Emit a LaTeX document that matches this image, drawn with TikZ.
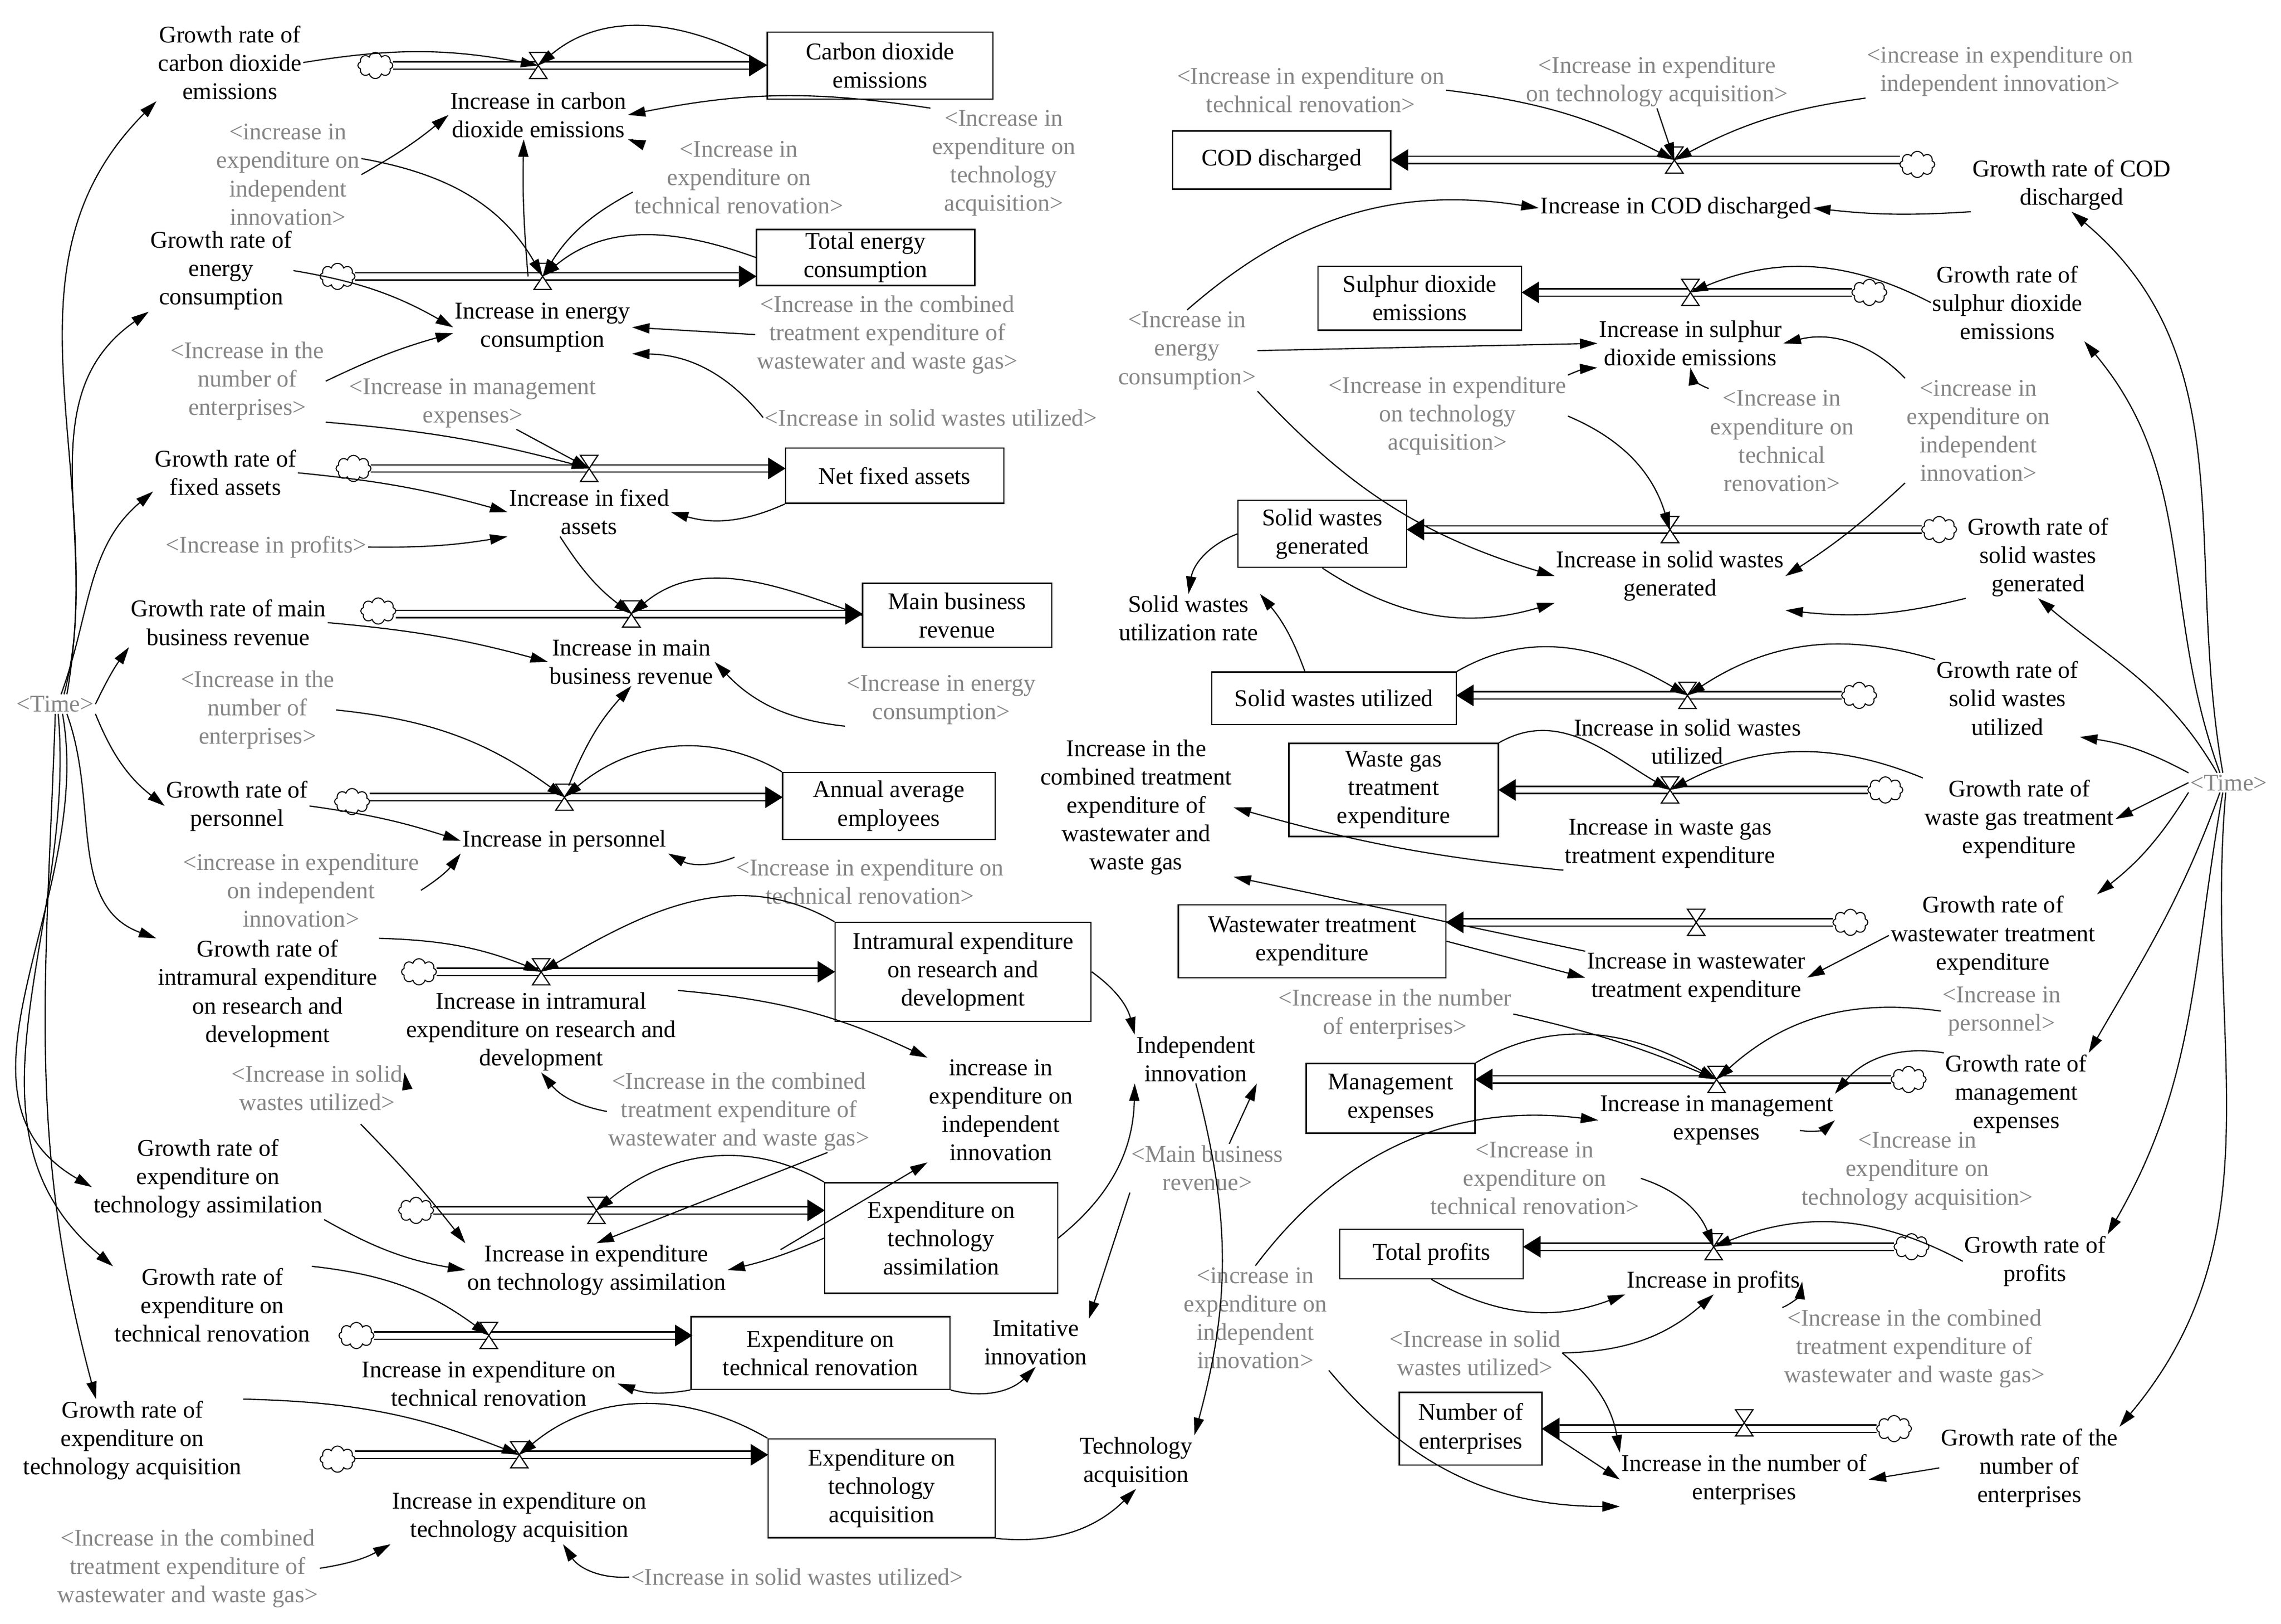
\documentclass[tikz,border=0pt]{standalone}
\usepackage{fontspec}
\setmainfont{Liberation Serif}
\usetikzlibrary{shapes.symbols,arrows.meta}
\newcommand\fs{\fontsize{16.5}{19.5}\selectfont}
\tikzset{
 stock/.style={draw,line width=0.9pt,align=center,inner sep=2pt,font=\fs},
 var/.style={align=center,inner sep=1pt,font=\fs},
 sh/.style={var,text=black!48},
 cl/.style={cloud,cloud puffs=8,aspect=1.4,draw,line width=0.7pt,minimum width=24pt,minimum height=18pt,inner sep=0pt,fill=white},
 conn/.style={-{Triangle[length=12pt,width=7pt]},line width=0.8pt},
}
\newcommand\pipe[3]{\pgfmathsetmacro\pb{#2-12*sign(#2-#1)}%
 \draw[line width=0.9pt] (#1,#3-2.5)--(\pb,#3-2.5) (#1,#3+2.5)--(\pb,#3+2.5);
 \fill (#2,#3)--(\pb,#3-7.5)--(\pb,#3+7.5)--cycle;}
\newcommand\valve[3]{\coordinate (#1) at (#2,#3);
 \draw[fill=white,line width=0.8pt] (#2-6,#3-9)--(#2+6,#3-9)--(#2-6,#3+9)--(#2+6,#3+9)--cycle;}
\begin{document}
\begin{tikzpicture}[x=1pt,y=-1pt]
\useasboundingbox (0,0) rectangle (1568,1116);
% ---------- LEFT ----------
\node[stock,minimum width=155pt,minimum height=46pt] (sC) at (605,45) {Carbon dioxide\\emissions};
\node[var] (rC) at (370,79) {Increase in carbon\\dioxide emissions};
\node[var] (gC) at (158,43) {Growth rate of\\carbon dioxide\\emissions};
\node[sh] (s1a) at (198,120) {<increase in\\expenditure on\\independent\\innovation>};
\node[sh] (s1b) at (508,122) {<Increase in\\expenditure on\\technical renovation>};
\node[sh] (s1c) at (690,112) {<Increase in\\expenditure on\\technology\\acquisition>};
\node[stock,minimum width=150pt,minimum height=38pt] (sE) at (595,177) {Total energy\\consumption};
\node[var] (rE) at (373,225) {Increase in energy\\consumption};
\node[var] (gE) at (152,186) {Growth rate of\\energy\\consumption};
\node[sh] (s2a) at (610,230) {<Increase in the combined\\treatment expenditure of\\wastewater and waste gas>};
\node[sh] (s2b) at (170,262) {<Increase in the\\number of\\enterprises>};
\node[sh] (s2c) at (325,277) {<Increase in management\\expenses>};
\node[sh] (s2d) at (640,287) {<Increase in solid wastes utilized>};
\node[stock,minimum width=150pt,minimum height=38pt] (sF) at (615,327) {Net fixed assets};
\node[var] (rF) at (405,352) {Increase in fixed\\assets};
\node[var] (gF) at (155,325) {Growth rate of\\fixed assets};
\node[sh] (s3a) at (183,376) {<Increase in profits>};
\node[stock,minimum width=130pt,minimum height=44pt] (sM) at (658,423) {Main business\\revenue};
\node[var] (rM) at (434,455) {Increase in main\\business revenue};
\node[var] (gM) at (157,428) {Growth rate of main\\business revenue};
\node[sh] (s4a) at (177,488) {<Increase in the\\number of\\enterprises>};
\node[sh] (s4b) at (647,481) {<Increase in energy\\consumption>};
\node[sh] (tL) at (38,484) {<Time>};
\node[stock,minimum width=146pt,minimum height=46pt] (sA) at (611,554) {Annual average\\employees};
\node[var] (rP) at (388,578) {Increase in personnel};
\node[var] (gP) at (163,554) {Growth rate of\\personnel};
\node[sh] (s5a) at (207,612) {<increase in expenditure\\on independent\\innovation>};
\node[sh] (s5b) at (598,606) {<Increase in expenditure on\\technical renovation>};
\node[stock,minimum width=176pt,minimum height=68pt] (sRD) at (662,668) {Intramural expenditure\\on research and\\development};
\node[var] (rRD) at (372,709) {Increase in intramural\\expenditure on research and\\development};
\node[var] (gRD) at (184,683) {Growth rate of\\intramural expenditure\\on research and\\development};
\node[sh] (s6a) at (218,748) {<Increase in solid\\wastes utilized>};
\node[sh] (s6b) at (508,764) {<Increase in the combined\\treatment expenditure of\\wastewater and waste gas>};
\node[var] (iII) at (688,763) {increase in\\expenditure on\\independent\\innovation};
\node[var] (II) at (822,728) {Independent\\innovation};
\node[sh] (sMB) at (830,803) {<Main business\\revenue>};
\node[stock,minimum width=160pt,minimum height=76pt] (sTA) at (647,851) {Expenditure on\\technology\\assimilation};
\node[var] (rTA) at (410,873) {Increase in expenditure\\on technology assimilation};
\node[var] (gTA) at (143,810) {Growth rate of\\expenditure on\\technology assimilation};
\node[stock,minimum width=178pt,minimum height=50pt] (sTR) at (564,930) {Expenditure on\\technical renovation};
\node[var] (rTR) at (336,951) {Increase in expenditure on\\technical renovation};
\node[var] (gTR) at (146,897) {Growth rate of\\expenditure on\\technical renovation};
\node[var] (Im) at (712,923) {Imitative\\innovation};
\node[var] (TA) at (781,1005) {Technology\\acquisition};
\node[stock,minimum width=156pt,minimum height=68pt] (sTQ) at (606,1023) {Expenditure on\\technology\\acquisition};
\node[var] (rTQ) at (357,1043) {Increase in expenditure on\\technology acquisition};
\node[var] (gTQ) at (91,990) {Growth rate of\\expenditure on\\technology acquisition};
\node[sh] (s9a) at (129,1078) {<Increase in the combined\\treatment expenditure of\\wastewater and waste gas>};
\node[sh] (s9b) at (548,1084) {<Increase in solid wastes utilized>};
% ---------- RIGHT ----------
\node[stock,minimum width=150pt,minimum height=40pt] (sCOD) at (881,110) {COD discharged};
\node[var] (rCOD) at (1152,143) {Increase in COD discharged};
\node[var] (gCOD) at (1424,127) {Growth rate of COD\\discharged};
\node[sh] (r1a) at (901,62) {<Increase in expenditure on\\technical renovation>};
\node[sh] (r1b) at (1139,56) {<Increase in expenditure\\on technology acquisition>};
\node[sh] (r1c) at (1375,49) {<increase in expenditure on\\independent innovation>};
\node[stock,minimum width=140pt,minimum height=44pt] (sSO) at (976,205) {Sulphur dioxide\\emissions};
\node[var] (rSO) at (1162,236) {Increase in sulphur\\dioxide emissions};
\node[var] (gSO) at (1380,208) {Growth rate of\\sulphur dioxide\\emissions};
\node[sh] (r2a) at (816,241) {<Increase in\\energy\\consumption>};
\node[sh] (r2b) at (995,286) {<Increase in expenditure\\on technology\\acquisition>};
\node[sh] (r2c) at (1225,303) {<Increase in\\expenditure on\\technical\\renovation>};
\node[sh] (r2d) at (1360,296) {<increase in\\expenditure on\\independent\\innovation>};
\node[stock,minimum width=116pt,minimum height=46pt] (sSW) at (909,367) {Solid wastes\\generated};
\node[var] (rSW) at (1148,396) {Increase in solid wastes\\generated};
\node[var] (gSW) at (1401,383) {Growth rate of\\solid wastes\\generated};
\node[var] (SUR) at (817,425) {Solid wastes\\utilization rate};
\node[stock,minimum width=168pt,minimum height=36pt] (sSU) at (917,480) {Solid wastes utilized};
\node[var] (rSU) at (1160,510) {Increase in solid wastes\\utilized};
\node[var] (gSU) at (1380,480) {Growth rate of\\solid wastes\\utilized};
\node[stock,minimum width=144pt,minimum height=64pt] (sWG) at (958,543) {Waste gas\\treatment\\expenditure};
\node[var] (rWG) at (1148,580) {Increase in waste gas\\treatment expenditure};
\node[var] (gWG) at (1388,563) {Growth rate of\\waste gas treatment\\expenditure};
\node[var] (CTE) at (781,555) {Increase in the\\combined treatment\\expenditure of\\wastewater and\\waste gas};
\node[sh] (tR) at (1532,538) {<Time>};
\node[stock,minimum width=184pt,minimum height=50pt] (sWW) at (902,647) {Wastewater treatment\\expenditure};
\node[var] (rWW) at (1166,672) {Increase in wastewater\\treatment expenditure};
\node[var] (gWW) at (1370,643) {Growth rate of\\wastewater treatment\\expenditure};
\node[stock,minimum width=116pt,minimum height=48pt] (sME) at (956,755) {Management\\expenses};
\node[var] (rME) at (1180,770) {Increase in management\\expenses};
\node[var] (gME) at (1386,752) {Growth rate of\\management\\expenses};
\node[sh] (r7a) at (959,697) {<Increase in the number\\of enterprises>};
\node[sh] (r7b) at (1376,695) {<Increase in\\personnel>};
\node[sh] (r7c) at (1318,805) {<Increase in\\expenditure on\\technology acquisition>};
\node[sh] (r7d) at (1055,810) {<Increase in\\expenditure on\\technical renovation>};
\node[stock,minimum width=126pt,minimum height=34pt] (sTP) at (984,862) {Total profits};
\node[var] (rIP) at (1178,881) {Increase in profits};
\node[var] (gPR) at (1399,867) {Growth rate of\\profits};
\node[sh] (r8a) at (863,906) {<increase in\\expenditure on\\independent\\innovation>};
\node[sh] (r8b) at (1316,927) {<Increase in the combined\\treatment expenditure of\\wastewater and waste gas>};
\node[sh] (r8c) at (1014,930) {<Increase in solid\\wastes utilized>};
\node[stock,minimum width=98pt,minimum height=50pt] (sNE) at (1011,982) {Number of\\enterprises};
\node[var] (rNE) at (1199,1017) {Increase in the number of\\enterprises};
\node[var] (gNE) at (1395,1009) {Growth rate of the\\number of\\enterprises};
% ---------- pipes ----------
\pipe{270}{527}{45}\pipe{244}{520}{190}\pipe{255}{540}{322}\pipe{272}{593}{422}
\pipe{254}{538}{548}\pipe{300}{574}{668}\pipe{298}{567}{832}\pipe{257}{476}{918}\pipe{244}{528}{1000}
\pipe{1306}{956}{110}\pipe{1273}{1046}{201}\pipe{1321}{967}{364}\pipe{1266}{1001}{478}
\pipe{1284}{1030}{543}\pipe{1260}{994}{634}\pipe{1300}{1014}{742}\pipe{1302}{1047}{857}\pipe{1290}{1060}{982}
\foreach \x/\y in {258/45,232/190,243/322,260/420,242/551,288/668,286/832,245/918,232/1003,1318/113,1285/201,1333/364,1278/478,1296/543,1272/634,1312/742,1314/857,1302/982}
  \node[cl] at (\x,\y) {};
\valve{v1}{370}{45}\valve{v2}{373}{190}\valve{v3}{405}{322}\valve{v4}{434}{422}\valve{v5}{388}{548}
\valve{v6}{372}{668}\valve{v7}{410}{832}\valve{v8}{336}{918}\valve{v9}{357}{1000}
\valve{w1}{1151}{110}\valve{w2}{1162}{201}\valve{w3}{1148}{364}\valve{w4}{1160}{478}\valve{w5}{1148}{543}
\valve{w6}{1166}{634}\valve{w7}{1180}{742}\valve{w8}{1178}{857}\valve{w9}{1199}{978}
% ---------- left connectors ----------
\draw[conn] (tL.north) ++(8,0) to[out=80,in=225] (gC.south west);
\draw[conn] (tL.north) ++(6,0) to[out=75,in=215] (gE.south west);
\draw[conn] (tL.north) ++(4,0) to[out=70,in=220] ([yshift=4pt]gF.south west);
\draw[conn] (tL.east) to[bend left=5] (gM.south west);
\draw[conn] (tL.south east) to[bend right=15] (gP.west);
\draw[conn] (tL.south) ++(8,0) to[out=-70,in=160] (gRD.north west);
\draw[conn] (tL.south) ++(5,0) to[out=-80,in=150] ([yshift=-6pt]gTA.west);
\draw[conn] (tL.south) ++(2,0) to[out=-85,in=140] (gTR.north west);
\draw[conn] (tL.south) to[out=-92,in=105] ([xshift=-25pt]gTQ.north);
\draw[conn] (gC.east) to[bend left=10] (v1);
\draw[conn] (sC.west) to[out=150,in=40] (v1);
\draw[conn] (s1a.east) to[bend right=5] (rC.west);
\draw[conn] (s1a.north east) ++(0,25) to[out=-10,in=120] (v2);
\draw[conn] (s1b.north west) to[bend left=20] (rC.south east);
\draw[conn] (s1b.west) ++(0,10) to[bend right=15] (v2);
\draw[conn] (s1c.north west) to[bend right=10] (rC.east);
\draw[conn] (v2) ++(-10,0) to[bend left=3] ([xshift=-10pt]rC.south);
\draw[conn] (gE.east) to[bend left=10] (rE.west);
\draw[conn] (sE.west) to[out=160,in=40] (v2);
\draw[conn] (s2a.west) -- (rE.east);
\draw[conn] (s2b.east) to[bend left=5] ([yshift=-4pt]rE.west);
\draw[conn] (s2d.west) to[bend right=25] (rE.south east);
\draw[conn] (s2c.south) ++(30,0) to (v3);
\draw[conn] (s2b.south east) to[bend left=5] (v3);
\draw[conn] (gF.east) to[bend left=5] (rF.west);
\draw[conn] (sF.south west) to[bend left=20] (rF.east);
\draw[conn] (s3a.east) to[bend right=5] (rF.south west);
\draw[conn] (rF.south) ++(-20,0) to[bend right=10] (v4);
\draw[conn] (gM.east) to[bend left=5] (rM.west);
\draw[conn] (sM.west) to[out=160,in=40] (v4);
\draw[conn] (s4b.south west) to[bend left=20] (rM.east);
\draw[conn] (s4a.east) to[bend left=15] (v5);
\draw[conn] (v5) ++(3,-8) to[bend left=10] (rM.south);
\draw[conn] (sA.north west) to[out=150,in=40] (v5);
\draw[conn] (gP.east) to[bend left=5] (rP.west);
\draw[conn] (s5a.east) to[bend right=10] (rP.south west);
\draw[conn] (s5b.north west) to[bend left=25] (rP.south east);
\draw[conn] (gRD.north east) to[bend left=10] (v6);
\draw[conn] (sRD.north west) to[out=150,in=30] (v6);
\draw[conn] (rRD.north east) to[bend left=10] (iII.north west);
\draw[conn] (sRD.east) to[bend left=20] (II.north west);
\draw[conn] (s6a.east) to[bend right=10] (rRD.south west);
\draw[conn] (s6b.west) to[bend left=20] (rRD.south);
\draw[conn] (s6a.south) ++(30,8) to[bend left=3] (rTA.north west);
\draw[conn] (gTA.south east) to[bend right=10] (rTA.west);
\draw[conn] (sTA.north west) to[out=150,in=40] (v7);
\draw[conn] (sTA.west) to[bend left=5] (rTA.east);
\draw[conn] (sTA.west) ++(-30,8) -- (iII.south west);
\draw[conn] (s6b.south east) ++(-30,0) to (rTA.north);
\draw[conn] (sTA.east) to[bend right=25] (II.south west);
\draw[conn] (sMB.north) ++(15,0) to (II.south east);
\draw[conn] (sMB.south west) -- (Im.north east);
\draw[conn] (II.south) to[bend left=15] (TA.north east);
\draw[conn] (gTR.north east) to[bend left=15] (v8);
\draw[conn] (sTR.south west) to[bend left=15] (rTR.east);
\draw[conn] (sTR.south east) to[bend right=30] (Im.south);
\draw[conn] (gTQ.north east) to[bend left=10] (v9);
\draw[conn] (sTQ.north west) to[out=150,in=40] (v9);
\draw[conn] (sTQ.south east) to[bend right=25] (TA.south);
\draw[conn] (s9a.east) to[bend right=10] (rTQ.south west);
\draw[conn] (s9b.west) to[bend left=30] ([xshift=30pt]rTQ.south);
% ---------- right connectors ----------
\draw[conn] (tR.north) ++(-4,0) to[out=100,in=-40] (gCOD.south);
\draw[conn] (tR.north) ++(-6,0) to[out=110,in=-50] (gSO.south east);
\draw[conn] (tR.north) ++(-8,0) to[out=120,in=-40] (gSW.south);
\draw[conn] (tR.north west) to[bend right=10] (gSU.south east);
\draw[conn] (tR.west) -- (gWG.east);
\draw[conn] (tR.south west) to[bend left=10] (gWW.north east);
\draw[conn] (tR.south) ++(-6,0) to[out=-110,in=60] (gME.north east);
\draw[conn] (tR.south) ++(-4,0) to[out=-100,in=60] (gPR.north east);
\draw[conn] (tR.south) ++(-2,0) to[out=-95,in=50] (gNE.north east);
\draw[conn] (r1a.east) to[bend left=10] (w1);
\draw[conn] (r1b.south) -- (w1);
\draw[conn] (r1c.south west) to[bend right=10] (w1);
\draw[conn] (gCOD.south west) to[bend left=5] (rCOD.east);
\draw[conn] (r2a.north) to[bend left=25] (rCOD.west);
\draw[conn] (r2a.east) -- (rSO.west);
\draw[conn] (r2a.south east) to[bend right=15] (rSW.west);
\draw[conn] (gSO.west) to[bend right=25] (w2);
\draw[conn] (r2b.north east) to[bend left=10] (rSO.south west);
\draw[conn] (r2c.north west) to[bend left=30] (rSO.south);
\draw[conn] (r2d.north west) to[bend right=30] (rSO.east);
\draw[conn] (r2b.east) to[bend left=25] (w3);
\draw[conn] (r2d.south west) to[bend left=5] (rSW.east);
\draw[conn] (gSW.south west) to[bend left=10] ([yshift=-5pt]rSW.south east);
\draw[conn] (sSW.south) to[bend right=25] (rSW.south west);
\draw[conn] (sSW.west) to[bend right=30] (SUR.north);
\draw[conn] (sSU.north) ++(-20,0) to[bend right=10] (SUR.north east);
\draw[conn] (gSU.north west) to[bend right=25] (w4);
\draw[conn] (sSU.north east) to[out=30,in=150] (w4);
\draw[conn] (gWG.north west) to[bend right=25] (w5);
\draw[conn] (sWG.north east) to[out=30,in=150] (w5);
\draw[conn] (rWG.south west) to[bend left=5] (CTE.east);
\draw[conn] (rWW.north west) to[bend left=0] (CTE.south east);
\draw[conn] (gWW.west) -- (rWW.east);
\draw[conn] (sWW.east) -- (rWW.west);
\draw[conn] (r7a.east) to[bend left=5] (w7);
\draw[conn] (r7b.west) to[bend right=25] (w7);
\draw[conn] (gME.north west) to[bend right=30] (rME.north east);
\draw[conn] (sME.north east) to[out=30,in=150] (w7);
\draw[conn] (r7c.north west) to[bend right=25] (rME.east);
\draw[conn] (r8a.north) to[bend left=30] (rME.west);
\draw[conn] (r7d.east) to[bend left=25] (w8);
\draw[conn] (gPR.west) to[bend right=25] (w8);
\draw[conn] (sTP.south) to[bend right=25] (rIP.south west);
\draw[conn] (r8b.north west) to[bend right=30] (rIP.east);
\draw[conn] (r8c.east) to[bend right=20] (rIP.south);
\draw[conn] (r8c.east) to[bend left=20] (rNE.north west);
\draw[conn] (r8a.south east) to[bend right=25] (rNE.south west);
\draw[conn] (gNE.west) -- (rNE.east);
\draw[conn] (sNE.east) -- (rNE.west);
\end{tikzpicture}
\end{document}
